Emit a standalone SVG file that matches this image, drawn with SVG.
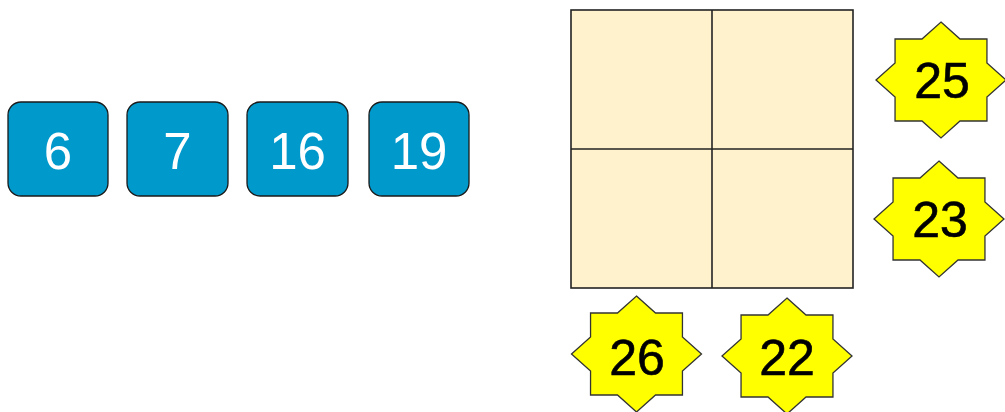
<svg xmlns="http://www.w3.org/2000/svg" width="1005" height="412" viewBox="0 0 1005 412">
<style>
.box{fill:#0099CC;stroke:#1a1a1a;stroke-width:1.3}
.bt{font-family:"Liberation Sans",Arial,sans-serif;font-size:51px;fill:#ffffff;text-anchor:middle}
.st{fill:#FFFF00;stroke:#333333;stroke-width:1.3}
.stt{font-family:"Liberation Sans",Arial,sans-serif;font-size:50px;fill:#000000;stroke:#000000;stroke-width:0.6;text-anchor:middle}
.cell{fill:#FFF2CC;stroke:#222222;stroke-width:1.6}
</style>
<defs>
<polygon id="star8" points="0,-58 19.03,-41 45.96,-41 45.94,-16.98 65,0 45.94,16.98 45.96,41 19.03,41 0,58 -19.03,41 -45.96,41 -45.94,16.98 -65,0 -45.94,-16.98 -45.96,-41 -19.03,-41"/>
</defs>
<rect width="1005" height="412" fill="#ffffff"/>
<g id="grid">
<rect class="cell" x="571" y="10" width="282" height="278"/>
<line x1="712" y1="10" x2="712" y2="288" stroke="#222222" stroke-width="1.6"/>
<line x1="571" y1="149" x2="853" y2="149" stroke="#222222" stroke-width="1.6"/>
</g>
<g id="connectors"></g>
<g id="n6"><rect class="box" x="8" y="102" width="100" height="94" rx="13"/><text class="bt" x="58" y="169">6</text></g>
<g id="n7"><rect class="box" x="127" y="102" width="101" height="94" rx="13"/><text class="bt" x="177.5" y="169">7</text></g>
<g id="n16"><rect class="box" x="247" y="102" width="101" height="94" rx="13"/><text class="bt" x="297.5" y="169">16</text></g>
<g id="n19"><rect class="box" x="369" y="102" width="100" height="94" rx="13"/><text class="bt" x="419" y="169">19</text></g>
<g id="s25"><use href="#star8" class="st" transform="translate(941,80)"/><text class="stt" x="942" y="98">25</text></g>
<g id="s23"><use href="#star8" class="st" transform="translate(939,219)"/><text class="stt" x="940" y="237">23</text></g>
<g id="s26"><use href="#star8" class="st" transform="translate(636.5,354)"/><text class="stt" x="637" y="375">26</text></g>
<g id="s22"><use href="#star8" class="st" transform="translate(787,356)"/><text class="stt" x="787" y="375">22</text></g>
</svg>
